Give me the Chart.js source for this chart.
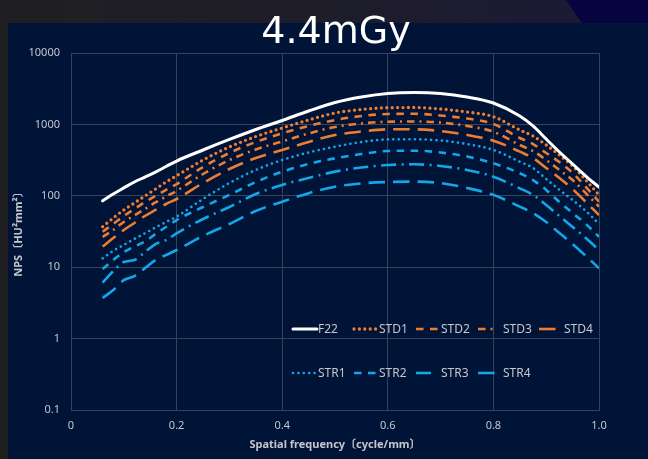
<!DOCTYPE html>
<html>
<head>
<meta charset="utf-8">
<script src="https://cdn.jsdelivr.net/npm/chart.js@4.4.1/dist/chart.umd.min.js"></script>
<style>
  html, body { margin:0; padding:0; }
  body { width:648px; height:459px; overflow:hidden; position:relative; background:#1e1e21; }
  #top { position:absolute; left:0; top:0; width:648px; height:23px;
         background:linear-gradient(90deg,#1f1f22 0%,#1e1d28 45%,#1c1a33 85%); }
  #topR { position:absolute; top:0; left:566px; width:82px; height:23px; background:#06033f;
          clip-path:polygon(0 0,100% 0,100% 100%,16px 100%); }
  #panel { position:absolute; left:8px; top:23px; width:640px; height:436px; background:#001438; }
  #c { position:absolute; left:0; top:0; }
</style>
</head>
<body>
<div id="top"></div><div id="topR"></div><div id="panel"></div>
<canvas id="c" width="648" height="459"></canvas>
<script>
// ---- data ----
const freq = [0.06,0.08,0.10,0.12,0.14,0.16,0.18,0.20,0.25,0.30,0.35,0.40,0.45,0.50,0.55,0.60,0.65,0.70,0.75,0.80,0.85,0.875,0.90,0.925,0.95,0.975,1.0];
const F22  = [85,106,129,156,183,215,257,307,438,615,848,1134,1541,2026,2420,2709,2798,2709,2420,1994,1311,950,624,411,279,189,132];
const STD1 = [36.9,48.9,63.3,79.3,99.4,124.5,156,191,317,483,677,890,1152,1444,1617,1713,1724,1643,1492,1282,835,688,515,373,262,166,103];
const STD2 = [31.4,40.3,52.1,65.3,81.9,99.4,121,146,253,398,567,751,950,1152,1311,1398,1407,1332,1209,1013,645,531,398,297,209,133,82.7];
const STD3 = [26.5,33.2,43.0,53.0,65.3,80.6,97.8,117,202,317,445,576,746,920,1029,1091,1098,1063,950,790,515,424,317,230,166,109,70.4];
const STD4 = [19.5,25.6,33.2,41.6,52.1,63.3,76.8,90.2,151,237,338,438,567,711,795,854,854,808,711,591,415,338,245,178,124.5,81.9,53.8];
const STR1 = [13.3,16.9,20.5,24.8,29.8,36.0,43.0,51.0,90.2,151,230,317,404,487,567,615,619,595,531,438,300,245,172,121,87.3,61.3,40.3];
const STR2 = [9.4,12.6,16.3,19.5,22.9,29.2,36.6,45.8,69.7,103,156,218,279,335,385,424,428,404,355,285,207,166,121,81.9,57.4,40.3,26.7];
const STR3 = [6.1,8.8,11.8,12.6,16.3,21.1,24.0,29.8,47.3,69.7,106,142,178,218,249,270,276,262,230,185,127,103,74.3,52.1,36.6,25.6,17.4];
const STR4 = [3.7,4.8,6.6,7.5,9.7,12.6,14.8,17.4,27.4,40.3,61.3,82.7,109,134,149,156,158,151,129,103,70.4,57.4,43.0,30.1,21.1,14.4,9.65];
const seriesNames = ['F22','STD1','STD2','STD3','STD4','STR1','STR2','STR3','STR4'];
const yTicks = [0.1, 1, 10, 100, 1000, 10000];
const titleText = '4.4mGy';
const xTitle = 'Spatial frequency〔cycle/mm〕';
const yTitle = 'NPS〔HU²mm²〕';

// ---- styles ----
const ORANGE = '#ED7D31', BLUE = '#13A6E8', WHITE = '#ffffff';
const DOT = [0, 5.4], DASH = [7.5, 6.5], DASHDOT = [7.5, 5, 2, 5], LONGDOT = [15, 5.5, 2, 5.5], LONG = [16.5, 8];
const styles = [
  {c: WHITE,  w: 3,   d: [],      cap: 'round'},
  {c: ORANGE, w: 3.3, d: DOT,     cap: 'round'},
  {c: ORANGE, w: 2.6, d: DASH,    cap: 'butt'},
  {c: ORANGE, w: 2.6, d: DASHDOT, cap: 'butt'},
  {c: ORANGE, w: 2.6, d: LONG,    cap: 'butt'},
  {c: BLUE,   w: 2.7, d: DOT,     cap: 'round'},
  {c: BLUE,   w: 2.6, d: DASH,    cap: 'butt'},
  {c: BLUE,   w: 2.6, d: LONGDOT, cap: 'butt'},
  {c: BLUE,   w: 2.6, d: LONG,    cap: 'butt'}
];
const allSeries = [F22, STD1, STD2, STD3, STD4, STR1, STR2, STR3, STR4];

const datasets = allSeries.map((arr, i) => ({
  label: seriesNames[i],
  data: freq.map((x, j) => ({x: x, y: arr[j]})),
  borderColor: styles[i].c,
  backgroundColor: styles[i].c,
  borderWidth: styles[i].w,
  borderDash: styles[i].d,
  borderCapStyle: styles[i].cap,
  borderJoinStyle: 'round',
  pointRadius: 0,
  fill: false,
  cubicInterpolationMode: 'monotone'
}));

const TXT = '#c4c6cc';
const FONT = '"Noto Sans", "Noto Sans CJK JP", sans-serif';
const GRID = '#3a4259';

const legendPos = [[293,329],[354,329],[416,329],[478,329],[539,329],[293,373],[354,373],[416,373],[478,373]];
const sampleLen = [24, 24, 22, 16, 18, 24, 22, 18, 18];
const inLegend = {
  id: 'inLegend',
  afterDraw(chart) {
    const ctx = chart.ctx;
    chart.data.datasets.forEach((ds, i) => {
      const [x, y] = legendPos[i];
      ctx.save();
      ctx.strokeStyle = ds.borderColor;
      ctx.lineWidth = ds.borderWidth;
      ctx.lineCap = ds.borderCapStyle;
      ctx.setLineDash(ds.borderDash);
      ctx.beginPath();
      ctx.moveTo(x, y);
      ctx.lineTo(x + sampleLen[i], y);
      ctx.stroke();
      ctx.setLineDash([]);
      ctx.fillStyle = TXT;
      ctx.font = '12px ' + FONT;
      ctx.textBaseline = 'middle';
      ctx.textAlign = 'left';
      ctx.fillText(ds.label, x + 25, y + 0.5);
      ctx.restore();
    });
  }
};
const bigTitle = {
  id: 'bigTitle',
  afterDraw(chart) {
    const ctx = chart.ctx;
    ctx.save();
    ctx.fillStyle = '#ffffff';
    ctx.font = '38px "DejaVu Sans", sans-serif';
    ctx.textAlign = 'center';
    ctx.textBaseline = 'alphabetic';
    ctx.fillText(titleText, 336, 43);
    ctx.restore();
  }
};

new Chart(document.getElementById('c'), {
  type: 'line',
  data: { datasets: datasets },
  plugins: [inLegend, bigTitle],
  options: {
    responsive: false,
    animation: false,
    devicePixelRatio: 1,
    layout: { padding: { top: 53, right: 49, left: 0, bottom: 0 } },
    plugins: { legend: { display: false }, tooltip: { enabled: false }, title: { display: false } },
    scales: {
      x: {
        type: 'linear', min: 0, max: 1,
        ticks: { stepSize: 0.2, color: TXT, font: { family: FONT, size: 11 }, padding: 9, maxRotation: 0, autoSkip: false },
        grid: { color: GRID, lineWidth: 1, drawTicks: false },
        border: { color: GRID, width: 1 },
        title: { display: true, text: xTitle, color: TXT, font: { family: FONT, size: 11, weight: 'bold' }, padding: { top: 0, bottom: 8 } },
        afterFit(s) { s.height = 49; }
      },
      y: {
        type: 'logarithmic', min: 0.1, max: 10000,
        afterBuildTicks(s) { s.ticks = yTicks.map(v => ({ value: v })); },
        ticks: { color: TXT, font: { family: FONT, size: 11 }, padding: 11, autoSkip: false, callback: (v) => String(v) },
        grid: { color: GRID, lineWidth: 1, drawTicks: false },
        border: { color: GRID, width: 1 },
        title: { display: true, text: yTitle, color: TXT, font: { family: FONT, size: 11, weight: 'bold' }, padding: { top: 12, bottom: 0 } },
        afterFit(s) { s.width = 71; }
      }
    }
  }
});
</script>
</body>
</html>
